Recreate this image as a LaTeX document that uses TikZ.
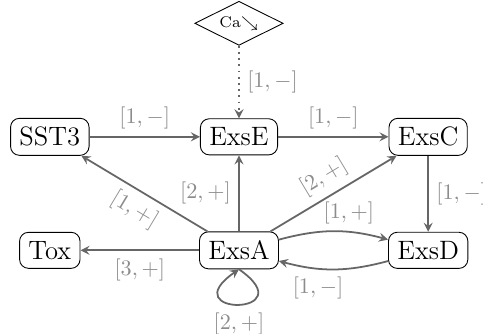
\documentclass[tikz,border=0pt]{standalone}
\usetikzlibrary{shapes.geometric}
\begin{document}
\begin{tikzpicture}[
  gene/.style={draw,rounded corners,font=\large,inner sep=4pt},
  signal/.style={draw,diamond,aspect=2,inner sep=1pt,minimum width=1.4cm,minimum height=.7cm,font=\scriptsize},
  reg/.style={->,>=stealth,thick,black!60},
  lab/.style={text=black!45}]
\useasboundingbox (-3.79,-1.32) rectangle (3.87,3.97);
\node[gene] (ExsA) at (0,0) {ExsA};
\node[gene] (Tox) at (-3,0) {Tox};
\node[gene] (ExsD) at (3,0) {ExsD};
\node[gene] (SST3) at (-3,1.8) {SST3};
\node[gene] (ExsE) at (0,1.8) {ExsE};
\node[gene] (ExsC) at (3,1.8) {ExsC};
\node[signal] (Ca) at (0,3.6) {Ca$\searrow$};
\draw[reg,dotted] (Ca) -- node[lab,right] {$[1,-]$} (ExsE);
\draw[reg] (SST3) -- node[lab,above] {$[1,-]$} (ExsE);
\draw[reg] (ExsE) -- node[lab,above] {$[1,-]$} (ExsC);
\draw[reg] (ExsC) -- node[lab,right] {$[1,-]$} (ExsD);
\draw[reg] (ExsA) -- node[lab,below,sloped] {$[1,+]$} (SST3);
\draw[reg] (ExsA) -- node[lab,left] {$[2,+]$} (ExsE);
\draw[reg] (ExsA) -- node[lab,above,sloped] {$[2,+]$} (ExsC);
\draw[reg] (ExsA) to[bend left=15] node[lab,above,pos=.65] {$[1,+]$} (ExsD);
\draw[reg] (ExsD) to[bend left=15] node[lab,below,pos=.65] {$[1,-]$} (ExsA);
\draw[reg] (ExsA) -- node[lab,below] {$[3,+]$} (Tox);
\draw[reg] (ExsA.south) to[out=-35,in=-145,distance=1.3cm] node[lab,below] {$[2,+]$} (ExsA.south);
\end{tikzpicture}
\end{document}
